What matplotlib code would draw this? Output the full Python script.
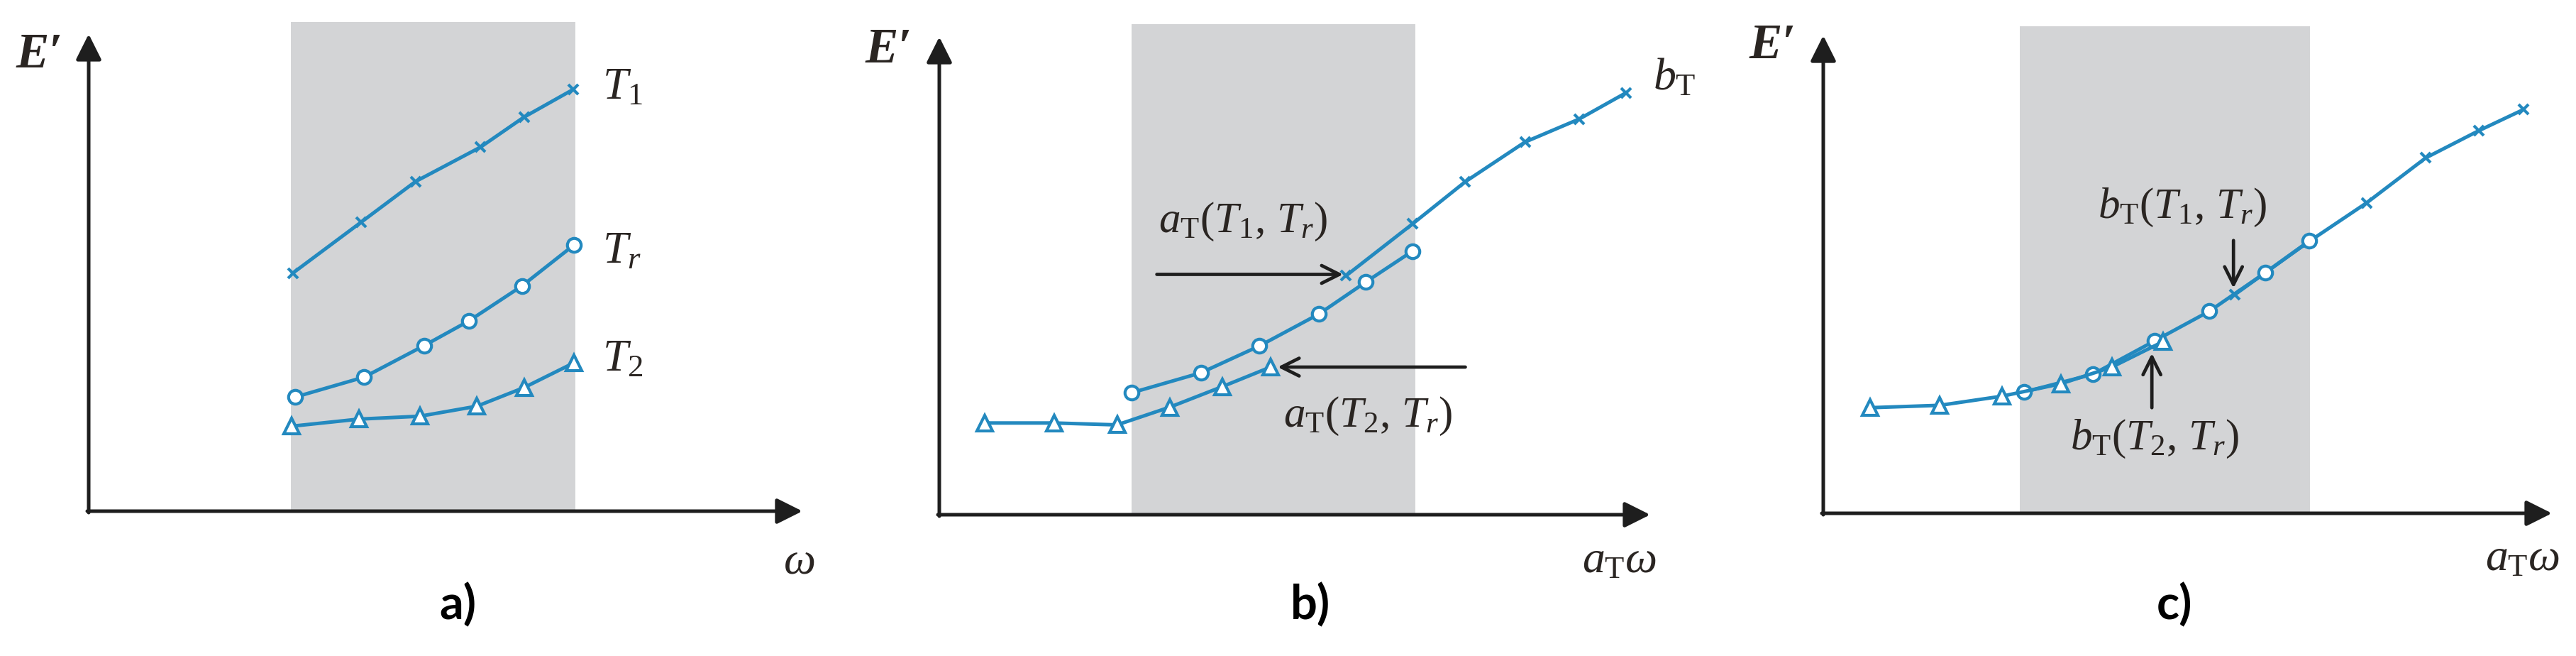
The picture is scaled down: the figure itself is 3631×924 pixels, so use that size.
import matplotlib
matplotlib.use("Agg")
import matplotlib.pyplot as plt
from matplotlib.patches import Rectangle

plt.rcParams['mathtext.fontset'] = 'custom'
plt.rcParams['mathtext.it'] = 'Liberation Serif:italic'
plt.rcParams['mathtext.rm'] = 'Liberation Serif'
plt.rcParams['mathtext.bf'] = 'Liberation Serif:bold'

# --- data (axis units: origin 0, arrow tips at 10) ---
# panel a: raw curves at three temperatures
a_t1_x = [2.86, 3.82, 4.58, 5.49, 6.10, 6.79]
a_t1_y = [4.99, 6.06, 6.91, 7.63, 8.26, 8.84]
a_tr_x = [2.89, 3.86, 4.70, 5.33, 6.07, 6.80]
a_tr_y = [2.39, 2.81, 3.47, 3.99, 4.72, 5.58]
a_t2_x = [2.84, 3.79, 4.64, 5.44, 6.10, 6.80]
a_t2_y = [1.78, 1.93, 1.99, 2.20, 2.59, 3.11]

# panel b: horizontal shift only
b_t1_x = [5.72, 6.66, 7.40, 8.24, 9.00, 9.66]
b_t1_y = [5.00, 6.09, 6.97, 7.80, 8.28, 8.83]
b_tr_x = [2.70, 3.68, 4.50, 5.34, 6.00, 6.66]
b_tr_y = [2.55, 2.97, 3.53, 4.20, 4.87, 5.52]
b_t2_x = [0.64, 1.62, 2.50, 3.24, 3.98, 4.66]
b_t2_y = [1.92, 1.92, 1.88, 2.25, 2.68, 3.09]

# panel c: horizontal and vertical shift
c_t1_x = [5.65, 6.65, 7.46, 8.27, 9.00, 9.61]
c_t1_y = [4.58, 5.67, 6.50, 7.44, 8.01, 8.45]
c_tr_x = [2.76, 3.70, 4.55, 5.30, 6.07, 6.67]
c_tr_y = [2.54, 2.91, 3.61, 4.23, 5.04, 5.70]
c_t2_x = [0.64, 1.60, 2.45, 3.26, 3.96, 4.66]
c_t2_y = [2.21, 2.26, 2.45, 2.71, 3.06, 3.59]

# shaded measurement window (x0, x1, top)
windows = [(2.83, 6.82, 10.25), (2.70, 6.70, 10.27), (2.70, 6.68, 10.2)]

W, H = 3631, 924
BLUE = '#2389bf'
GREY = '#d3d4d6'
TXT = '#2a2522'
AX = '#1e1e1e'

fig = plt.figure(figsize=(W / 100, H / 100), dpi=100)

XL = (-1.3, 11.6)
YL = (-2.2, 10.8)


def make_axes(ox, oy, sx, sy):
    left = (ox + XL[0] * sx) / W
    width = (XL[1] - XL[0]) * sx / W
    bottom = (H - oy + YL[0] * sy) / H
    height = (YL[1] - YL[0]) * sy / H
    ax = fig.add_axes([left, bottom, width, height])
    ax.set_xlim(XL)
    ax.set_ylim(YL)
    ax.axis('off')
    return ax


def draw_frame(ax, win):
    x0, x1, top = win
    ax.add_patch(Rectangle((x0, 0), x1 - x0, top, facecolor=GREY,
                           edgecolor='none', zorder=0))
    arr = dict(arrowstyle='-|>', mutation_scale=55, lw=3.6, color=AX,
               shrinkA=0, shrinkB=0)
    ax.annotate('', xy=(10, 0), xytext=(-0.02, 0), arrowprops=arr, zorder=2)
    ax.annotate('', xy=(0, 10), xytext=(0, -0.03), arrowprops=arr, zorder=2)


def draw_series(ax, t1, tr, t2):
    ax.plot(*t1, color=BLUE, lw=3.6, marker='x', ms=10, mew=3, zorder=3)
    ax.plot(*tr, color=BLUE, lw=3.6, marker='o', ms=14, mfc='white',
            mec=BLUE, mew=3, zorder=4)
    ax.plot(*t2, color=BLUE, lw=3.6, marker='^', ms=16, mfc='white',
            mec=BLUE, mew=3, zorder=4)


def label(ax, x, y, s, size=46):
    ax.text(x, y, s, fontsize=size, color=TXT, ha='left', va='baseline',
            zorder=5)


def e_label(ax, x, y):
    ax.text(x, y, 'E\u2032', fontsize=50, color=TXT, ha='left',
            va='baseline', family='Liberation Serif', style='italic',
            fontweight='bold')


def black_arrow(ax, start, end):
    ax.annotate('', xy=end, xytext=start, zorder=6,
                arrowprops=dict(arrowstyle='->', mutation_scale=45, lw=3.4,
                                color=AX, shrinkA=0, shrinkB=0))


# ---- panel a ----
ax1 = make_axes(125, 720, 100.6, 67.2)
draw_frame(ax1, windows[0])
draw_series(ax1, (a_t1_x, a_t1_y), (a_tr_x, a_tr_y), (a_t2_x, a_t2_y))
e_label(ax1, -1.02, 9.3)
label(ax1, 7.2, 8.64, r'$T_1$')
label(ax1, 7.2, 5.2, r'$T_r$')
label(ax1, 7.2, 2.94, r'$T_2$')
label(ax1, 9.73, -1.3, r'$\omega$')

# ---- panel b ----
ax2 = make_axes(1324, 725, 100.2, 67.3)
draw_frame(ax2, windows[1])
draw_series(ax2, (b_t1_x, b_t1_y), (b_tr_x, b_tr_y), (b_t2_x, b_t2_y))
e_label(ax2, -1.04, 9.46)
label(ax2, 10.04, 8.89, r'$b_{\mathrm{T}}$')
label(ax2, 3.08, 5.92, r'$a_{\mathrm{T}}(T_1,\,T_r)$', 44)
label(ax2, 4.84, 1.85, r'$a_{\mathrm{T}}(T_2,\,T_r)$', 44)
label(ax2, 9.04, -1.21, r'$a_{\mathrm{T}}\omega$')
black_arrow(ax2, (3.06, 5.03), (5.68, 5.03))
black_arrow(ax2, (7.40, 3.09), (4.76, 3.09))

# ---- panel c ----
ax3 = make_axes(2570, 723, 102.7, 67.3)
draw_frame(ax3, windows[2])
draw_series(ax3, (c_t1_x, c_t1_y), (c_tr_x, c_tr_y), (c_t2_x, c_t2_y))
e_label(ax3, -1.02, 9.52)
label(ax3, 3.77, 6.19, r'$b_{\mathrm{T}}(T_1,\,T_r)$', 44)
label(ax3, 3.39, 1.34, r'$b_{\mathrm{T}}(T_2,\,T_r)$', 44)
label(ax3, 9.08, -1.2, r'$a_{\mathrm{T}}\omega$')
black_arrow(ax3, (5.63, 5.71), (5.63, 4.71))
black_arrow(ax3, (4.51, 2.21), (4.51, 3.35))

# panel letters
for txt, px in [('a)', 645), ('b)', 1847), ('c)', 3065)]:
    fig.text(px / W, 1 - 853 / H, txt, fontsize=48, fontweight='bold',
             family='Lato', ha='center', va='center', color='black')

fig.savefig('out.png', dpi=100)
